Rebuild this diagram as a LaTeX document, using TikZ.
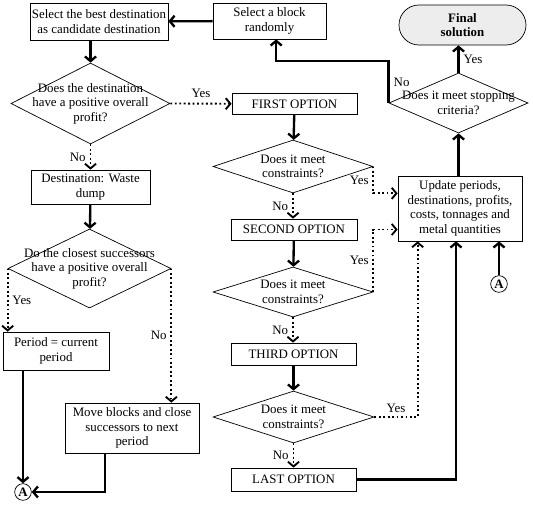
\documentclass[tikz,border=0pt]{standalone}
\usepackage{fontspec}
\setmainfont{Liberation Serif}
\usetikzlibrary{shapes.geometric,arrows.meta}

\begin{document}
\begin{tikzpicture}[x=0.03cm,y=-0.03cm,
    font=\fontsize{11}{12.4}\selectfont,
    box/.style={shape=rectangle,draw=black,line width=0.6pt,align=center,inner sep=1pt},
    decision/.style={shape=diamond,draw=black,line width=0.6pt,inner sep=0pt},
    question/.style={align=center,inner sep=0pt},
    connector/.style={shape=circle,draw=black,line width=0.6pt,minimum size=0.5cm,inner sep=0pt},
    flow/.style={line width=2pt,-{Straight Barb[length=4pt,width=9.5pt]}},
    dotflow/.style={line width=1.6pt,dash pattern=on 1.6pt off 2.2pt,-{Straight Barb[length=4pt,width=9.5pt]}}]
    \useasboundingbox (0,0) rectangle (533,506);

    % top row
    \node[box,minimum width=4.14cm,minimum height=1.11cm] (best) at (99,21.5) {Select the best destination\\as candidate destination};
    \node[box,minimum width=3.39cm,minimum height=1.08cm] (block) at (269.5,21) {Select a block\\randomly};
    \node[box,rounded corners=0.6cm,fill=black!7,minimum width=3.81cm,minimum height=1.2cm] (final) at (462.5,25) {\textbf{Final}\\\textbf{solution}};

    % left column
    \node[decision,minimum width=4.77cm,minimum height=2.43cm] (dest) at (90.5,103.5) {};
    \node[question] (destq) at (dest) {Does the destination\\have a positive overall\\profit?};
    \node[box,minimum width=3.57cm,minimum height=1.02cm] (waste) at (90.5,187) {Destination: Waste\\dump};
    \node[decision,minimum width=4.89cm,minimum height=2.37cm] (succ) at (89.5,268.5) {};
    \node[question] (succq) at (succ) {Do the closest successors\\have a positive overall\\profit?};
    \node[box,minimum width=3.18cm,minimum height=1.14cm] (period) at (56,351) {Period = current\\period};
    \node[box,minimum width=4.02cm,minimum height=1.5cm] (move) at (132,428) {Move blocks and close\\successors to next\\period};
    \node[connector] (aout) at (23,492) {\textbf{A}};

    % middle column
    \node[box,minimum width=3.75cm,minimum height=0.63cm] (opt1) at (294.5,104) {FIRST OPTION};
    \node[decision,minimum width=4.8cm,minimum height=1.59cm] (con1) at (293,166.5) {};
    \node[question] (con1q) at (con1) {Does it meet\\constraints?};
    \node[box,minimum width=3.78cm,minimum height=0.63cm] (opt2) at (294,229.5) {SECOND OPTION};
    \node[decision,minimum width=4.8cm,minimum height=1.5cm] (con2) at (293,292) {};
    \node[question] (con2q) at (con2) {Does it meet\\constraints?};
    \node[box,minimum width=3.75cm,minimum height=0.66cm] (opt3) at (293.5,354) {THIRD OPTION};
    \node[decision,minimum width=4.83cm,minimum height=1.56cm] (con3) at (293.5,417) {};
    \node[question] (con3q) at (con3) {Does it meet\\constraints?};
    \node[box,minimum width=3.75cm,minimum height=0.69cm] (opt4) at (293.5,479.5) {LAST OPTION};

    % right column
    \node[decision,minimum width=4.17cm,minimum height=1.8cm] (stop) at (458.5,103) {};
    \node[question] (stopq) at (stop) {Does it meet stopping\\criteria?};
    \node[box,minimum width=3.72cm,minimum height=1.95cm] (update) at (460,208.5) {Update periods,\\destinations, profits,\\costs, tonnages and\\metal quantities};
    \node[connector] (ain) at (499,284) {\textbf{A}};

    % connectors
    \draw[flow] (block) -- (best);
    \draw[flow] (dest.north |- best.south) -- (dest.north);
    \draw[dotflow] (dest.east) -- node[above,yshift=1pt]{Yes} (opt1);
    \draw[dotflow] (dest.south) -- node[left]{No} (dest.south |- waste.north);
    \draw[flow] (waste) -- (succ);
    \draw[dotflow] (succ.west) -- node[right]{Yes} (succ.west |- period.north);
    \draw[dotflow] (succ.east) -- node[left]{No} (succ.east |- move.north);
    \draw[flow] (aout |- period.south) -- (aout);
    \draw[flow] ([xshift=-0.81cm]move.south) |- (aout);

    \draw[flow] (opt1) -- (con1);
    \draw[dotflow] (con1.east) |- node[pos=0.25,left]{Yes} (update.west |- con1.south);
    \draw[dotflow] (con1.south) -- node[left]{No} (con1.south |- opt2.north);
    \draw[flow] (opt2) -- (con2);
    \draw[dotflow] (con2.east) |- node[pos=0.25,left]{Yes} (update.west |- opt2);
    \draw[dotflow] (con2.south) -- node[left]{No} (con2.south |- opt3.north);
    \draw[flow] (opt3) -- (con3);
    \draw[dotflow] (con3.east) -| node[pos=0.25,above]{Yes} ([xshift=0.6cm]update.south west);
    \draw[dotflow] (con3.south) -- node[left]{No} (con3.south |- opt4.north);
    \draw[flow] (opt4.east) -| ([xshift=-0.12cm]update.south);

    \draw[flow] (ain) -- (ain |- update.south);
    \draw[flow] (stop.south |- update.north) -- (stop.south);
    \draw[flow] (stop.north) -- node[right]{Yes} (stop.north |- final.south);
    \draw[flow] (stop.west) -- node[right]{No} ++(0,-42) -| ([xshift=0.2cm]block.south);
\end{tikzpicture}
\end{document}
